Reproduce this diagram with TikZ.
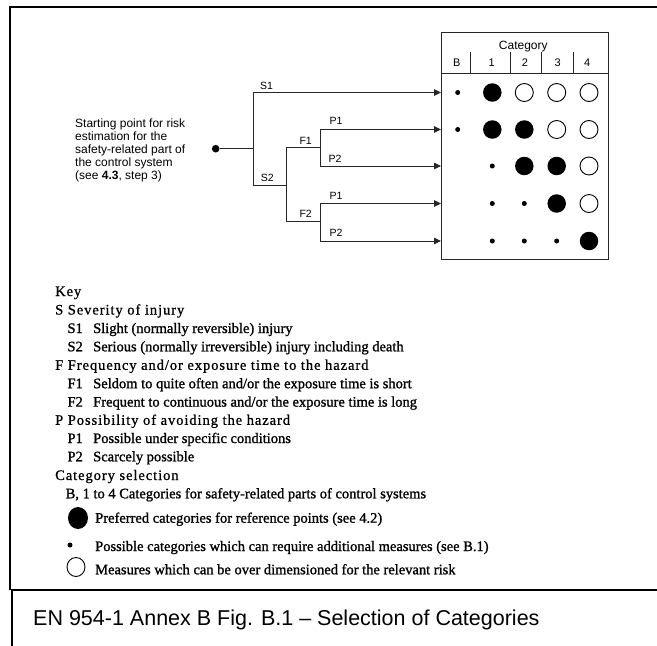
\documentclass[tikz,border=0pt]{standalone}
\usepackage{fontspec}
\setmainfont{Liberation Serif}
\newfontfamily\arialf{Liberation Sans}
\newfontfamily\keyheadf[LetterSpace=6.5,FakeBold=0.8]{Liberation Serif}
\newfontfamily\keyitemf[FakeBold=1.2]{Liberation Serif}
\usetikzlibrary{arrows.meta,shapes.geometric}
\begin{document}
\begin{tikzpicture}[x=1pt,y=-1pt,
  treetxt/.style={font=\arialf\fontsize{12}{13}\selectfont, anchor=base west, inner sep=0},
  brlbl/.style={font=\arialf\fontsize{10.5}{12}\selectfont, anchor=base west, inner sep=0},
  hdrlbl/.style={font=\arialf\fontsize{11}{12}\selectfont, anchor=base, inner sep=0},
  keyhead/.style={font=\keyheadf\fontsize{14.5}{18}\selectfont, anchor=base west, inner sep=0},
  keyitem/.style={font=\keyitemf\fontsize{14.5}{18}\selectfont, anchor=base west, inner sep=0},
  branch/.style={draw=black!85, line width=0.9pt},
  arr/.style={branch, -{Triangle[length=7pt,width=6.5pt]}},
  bigdot/.style={circle, fill=black, minimum size=18.5pt, inner sep=0},
  smalldot/.style={circle, fill=black, minimum size=5pt, inner sep=0},
  opendot/.style={circle, draw=black, line width=0.9pt, minimum size=18pt, inner sep=0},
  frameline/.style={draw=black, line width=2pt}
]
\useasboundingbox (0,0) rectangle (657,646);
% outer frame
\draw[frameline] (657,7) -- (10,7) -- (10,590);
\draw[frameline] (11.5,590) -- (657,590);
\draw[frameline] (11.5,589) -- (11.5,646);

% starting text
\node[treetxt] (st1) at (75,127) {Starting point for risk};
\node[treetxt] (st2) at (75,140) {estimation for the};
\node[treetxt] (st3) at (75,153) {safety-related part of};
\node[treetxt] (st4) at (75,166) {the control system};
\node[treetxt] (st5) at (75,179) {(see \textbf{4.3}, step 3)};

% category box
\node[draw=black!85, line width=0.9pt, minimum width=166.7pt, minimum height=226.7pt, inner sep=0, anchor=north west] (box) at (441,32.3) {};
\draw[branch] (441,73.3) coordinate (hl) -- (607.7,73.3) coordinate (hr);
\foreach \x/\n in {470.7/a,510/b,541.7/c,573.3/d}
  \draw[branch] (\x,51.7) coordinate (tk\n) -- (\x,73.3);
\node[font=\arialf\fontsize{12}{13}\selectfont, anchor=base, inner sep=0] (cat) at (523.3,49) {Category};
\node[hdrlbl] (hB) at (456.7,66.7) {B};
\node[hdrlbl] (h1) at (491.7,66.7) {1};
\node[hdrlbl] (h2) at (525,66.7) {2};
\node[hdrlbl] (h3) at (557.7,66.7) {3};
\node[hdrlbl] (h4) at (587.3,66.7) {4};

% tree
\node[circle, fill=black, minimum size=7.6pt, inner sep=0] (start) at (215.7,148.7) {};
\coordinate (j0) at (253,148.7);
\coordinate (s1c) at (253,92.5);
\coordinate (s2c) at (253,185);
\coordinate (fc) at (286,185);
\coordinate (f1c) at (286,147.7);
\coordinate (f2c) at (286,221.7);
\coordinate (g1) at (320,147.7);
\coordinate (g2) at (320,221.7);
\coordinate (p11) at (320,129.5);
\coordinate (p12) at (320,166);
\coordinate (p21) at (320,203.5);
\coordinate (p22) at (320,241);
\coordinate (t1) at (441,92.5);
\coordinate (t2) at (441,129.5);
\coordinate (t3) at (441,166);
\coordinate (t4) at (441,203.5);
\coordinate (t5) at (441,241);

\draw[branch] (start) -- (j0);
\draw[branch] (s1c) -- (s2c) -- (fc);
\draw[branch] (f1c) -- (f2c);
\draw[branch] (f1c) -- (g1);
\draw[branch] (f2c) -- (g2);
\draw[branch] (p11) -- (p12);
\draw[branch] (p21) -- (p22);
\draw[arr] (s1c) -- (t1);
\draw[arr] (p11) -- (t2);
\draw[arr] (p12) -- (t3);
\draw[arr] (p21) -- (t4);
\draw[arr] (p22) -- (t5);

\node[brlbl] (lS1) at (260,89) {S1};
\node[brlbl] (lS2) at (260.7,181) {S2};
\node[brlbl] (lF1) at (299.3,144.3) {F1};
\node[brlbl] (lF2) at (299.3,217.7) {F2};
\node[brlbl] (lP11) at (329.3,124.3) {P1};
\node[brlbl] (lP12) at (328.3,162.3) {P2};
\node[brlbl] (lP21) at (329.3,199) {P1};
\node[brlbl] (lP22) at (329.3,236.7) {P2};

% dots
\foreach \c/\r/\t [count=\i] in {
  457.7/92.5/smalldot, 492.3/92.5/bigdot, 524.3/92.5/opendot, 556.7/92.5/opendot, 589/92.5/opendot,
  457.7/129.5/smalldot, 492.3/129.5/bigdot, 524.3/129.5/bigdot, 556.7/129.5/opendot, 589/129.5/opendot,
  492.3/166/smalldot, 524.3/166/bigdot, 556.7/166/bigdot, 589/166/opendot,
  492.3/203.5/smalldot, 524.3/203.5/smalldot, 556.7/203.5/bigdot, 589/203.5/opendot,
  492.3/241/smalldot, 524.3/241/smalldot, 556.7/241/smalldot, 589/241/bigdot}
  \node[\t] (d\i) at (\c,\r) {};

% key
\node[keyhead] (kKey) at (55,296) {Key};
\node[keyhead] (kS) at (55,314.5) {S Severity of injury};
\node[keyitem] (kS1c) at (67.3,333) {S1};
\node[keyitem] (kS1) at (93,333) {Slight (normally reversible) injury};
\node[keyitem] (kS2c) at (67.3,351.3) {S2};
\node[keyitem] (kS2) at (93,351.3) {Serious (normally irreversible) injury including death};
\node[keyhead] (kF) at (55,369.8) {F Frequency and/or exposure time to the hazard};
\node[keyitem] (kF1c) at (67.3,388.2) {F1};
\node[keyitem] (kF1) at (93,388.2) {Seldom to quite often and/or the exposure time is short};
\node[keyitem] (kF2c) at (67.3,406.6) {F2};
\node[keyitem] (kF2) at (93,406.6) {Frequent to continuous and/or the exposure time is long};
\node[keyhead] (kP) at (55,424.8) {P Possibility of avoiding the hazard};
\node[keyitem] (kP1c) at (67.3,443) {P1};
\node[keyitem] (kP1) at (93,443) {Possible under specific conditions};
\node[keyitem] (kP2c) at (67.3,461.3) {P2};
\node[keyitem] (kP2) at (93,461.3) {Scarcely possible};
\node[keyhead] (kC) at (55,480) {Category selection};
\node[keyitem] (kB) at (65.5,498.3) {B, 1 to 4 Categories for safety-related parts of control systems};

% legend
\node[ellipse, fill=black, minimum width=20pt, minimum height=22pt, inner sep=0] (lgBig) at (78,518) {};
\node[keyitem] (lgBigT) at (95,522.7) {Preferred categories for reference points (see 4.2)};
\node[smalldot] (lgSmall) at (70,545) {};
\node[keyitem] (lgSmallT) at (95,551) {Possible categories which can require additional measures (see B.1)};
\node[ellipse, draw=black, line width=0.9pt, minimum width=18pt, minimum height=19pt, inner sep=0] (lgOpen) at (76,567) {};
\node[keyitem] (lgOpenT) at (95,574.3) {Measures which can be over dimensioned for the relevant risk};

% caption
\node[font=\arialf\fontsize{21.5}{24}\selectfont, anchor=base west, inner sep=0] (cap) at (33,625) {EN 954-1 Annex B Fig. B.1 – Selection of Categories};
\end{tikzpicture}
\end{document}
